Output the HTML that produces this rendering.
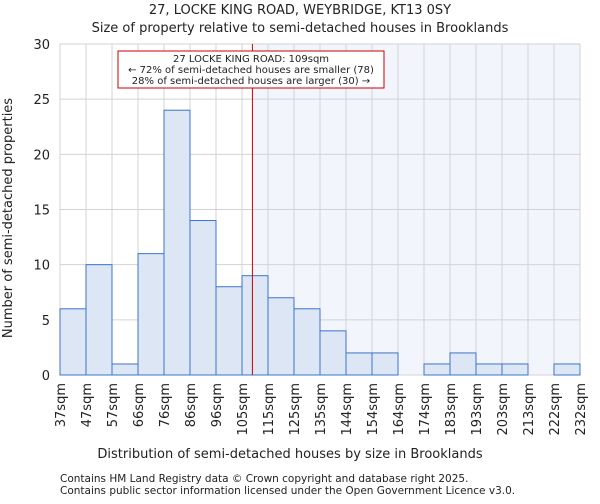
<!DOCTYPE html>
<html><head><meta charset="utf-8"><style>
body{margin:0;background:#fff;font-family:"DejaVu Sans","Liberation Sans",sans-serif}
svg text{font-family:"DejaVu Sans","Liberation Sans",sans-serif;fill:#222}
</style></head><body>
<svg id="chart" width="600" height="500">
<text x="300" y="14" font-size="13" text-anchor="middle">27, LOCKE KING ROAD, WEYBRIDGE, KT13 0SY</text>
<text x="300" y="32" font-size="13" text-anchor="middle">Size of property relative to semi-detached houses in Brooklands</text>
<g id="plot"></g>
<text x="290" y="458" font-size="13" text-anchor="middle">Distribution of semi-detached houses by size in Brooklands</text>
<text transform="translate(12,218) rotate(-90)" font-size="13" text-anchor="middle">Number of semi-detached properties</text>
<text x="60" y="482" font-size="10.5">Contains HM Land Registry data © Crown copyright and database right 2025.</text>
<text x="60" y="494" font-size="10.5">Contains public sector information licensed under the Open Government Licence v3.0.</text>
</svg>
<script>
const categories=["37sqm","47sqm","57sqm","66sqm","76sqm","86sqm","96sqm","105sqm","115sqm","125sqm","135sqm","144sqm","154sqm","164sqm","174sqm","183sqm","193sqm","203sqm","213sqm","222sqm","232sqm"];
const counts=[6,10,1,11,24,14,8,9,7,6,4,2,2,0,1,2,1,1,0,1];
const yTicks=[0,5,10,15,20,25,30];
const propertyBinPos=7.4;
const NS="http://www.w3.org/2000/svg";
const g=document.getElementById('plot');
const X0=60,X1=580,Y0=375,Y1=44,nb=counts.length;
const xs=i=>X0+(X1-X0)*i/nb;
const ys=v=>Y0-(Y0-Y1)*v/30;
function mk(t,a){const e=document.createElementNS(NS,t);for(const k in a)e.setAttribute(k,a[k]);g.appendChild(e);return e;}
let e;
const lx=xs(propertyBinPos);
e=mk('rect',{x:lx,y:Y1,width:X1-lx,height:Y0-Y1,fill:'#f2f5fc'});


for(let i=0;i<=nb;i++){e=mk('line',{x1:xs(i),x2:xs(i),y1:Y1,y2:Y0,stroke:'#d3d3d3','stroke-width':1});

}
yTicks.forEach(t=>{e=mk('line',{x1:X0,x2:X1,y1:ys(t),y2:ys(t),stroke:'#d3d3d3','stroke-width':1});


const tx=mk('text',{x:X0-10,y:ys(t)+5,'font-size':13,'text-anchor':'end'});tx.textContent=t;

});
counts.forEach((c,i)=>{if(c<=0)return;e=mk('rect',{x:xs(i),y:ys(c),width:xs(i+1)-xs(i),height:Y0-ys(c),fill:'#dce6f5',stroke:'#3d74c9','stroke-width':1});

});
categories.forEach((c,i)=>{const x=xs(i);const t=mk('text',{transform:`translate(${x+5},${Y0+8}) rotate(-90)`,'font-size':13,'text-anchor':'end'});t.textContent=c;

});
e=mk('line',{x1:lx,x2:lx,y1:Y1,y2:Y0,stroke:'#cc0000','stroke-width':1});


e=mk('rect',{x:118,y:51,width:266,height:37,fill:'#fff',stroke:'#cc0000','stroke-width':1});


["27 LOCKE KING ROAD: 109sqm","← 72% of semi-detached houses are smaller (78)","28% of semi-detached houses are larger (30) →"].forEach((s,k)=>{const t=mk('text',{x:251,y:62+k*11,'font-size':10,'text-anchor':'middle'});t.textContent=s;

});
</script>
</body></html>
